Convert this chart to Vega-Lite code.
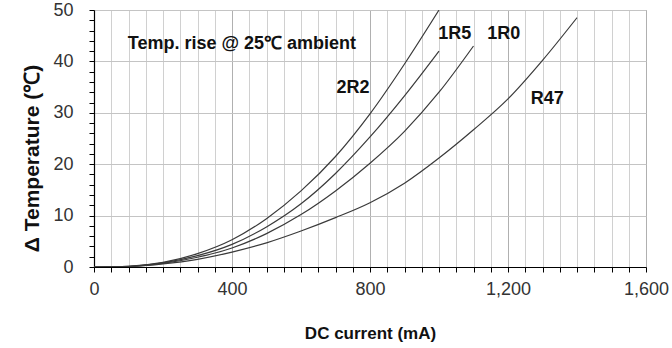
{
  "$schema": "https://vega.github.io/schema/vega-lite/v6.json",
  "width": 552,
  "height": 257,
  "autosize": {"type": "none"},
  "padding": {"left": 94, "top": 10, "right": 26, "bottom": 81},
  "background": "white",
  "config": {
    "view": {"stroke": "#9a9a9a", "strokeWidth": 1},
    "axis": {"labelFont": "Liberation Sans, Arial", "titleFont": "Liberation Sans, Arial", "labelColor": "#333", "titleColor": "#111"}
  },
  "datasets": {
    "curves": [
      {"series": "2R2", "current": 0, "rise": 0},
      {"series": "2R2", "current": 100, "rise": 0.15},
      {"series": "2R2", "current": 200, "rise": 0.9},
      {"series": "2R2", "current": 300, "rise": 2.6},
      {"series": "2R2", "current": 400, "rise": 5.3},
      {"series": "2R2", "current": 500, "rise": 9.4},
      {"series": "2R2", "current": 600, "rise": 14.8},
      {"series": "2R2", "current": 700, "rise": 21.5},
      {"series": "2R2", "current": 800, "rise": 29.8},
      {"series": "2R2", "current": 900, "rise": 39.5},
      {"series": "2R2", "current": 1000, "rise": 50},
      {"series": "1R5", "current": 0, "rise": 0},
      {"series": "1R5", "current": 100, "rise": 0.12},
      {"series": "1R5", "current": 200, "rise": 0.8},
      {"series": "1R5", "current": 300, "rise": 2.2},
      {"series": "1R5", "current": 400, "rise": 4.4},
      {"series": "1R5", "current": 500, "rise": 7.8},
      {"series": "1R5", "current": 600, "rise": 12.3},
      {"series": "1R5", "current": 700, "rise": 18.2},
      {"series": "1R5", "current": 800, "rise": 25.3},
      {"series": "1R5", "current": 900, "rise": 33.3},
      {"series": "1R5", "current": 1000, "rise": 42},
      {"series": "1R0", "current": 0, "rise": 0},
      {"series": "1R0", "current": 100, "rise": 0.1},
      {"series": "1R0", "current": 200, "rise": 0.7},
      {"series": "1R0", "current": 300, "rise": 1.9},
      {"series": "1R0", "current": 400, "rise": 3.7},
      {"series": "1R0", "current": 500, "rise": 6.5},
      {"series": "1R0", "current": 600, "rise": 10.2},
      {"series": "1R0", "current": 700, "rise": 14.8},
      {"series": "1R0", "current": 800, "rise": 20.2},
      {"series": "1R0", "current": 900, "rise": 26.4},
      {"series": "1R0", "current": 1000, "rise": 34.0},
      {"series": "1R0", "current": 1100, "rise": 43},
      {"series": "R47", "current": 0, "rise": 0},
      {"series": "R47", "current": 100, "rise": 0.08},
      {"series": "R47", "current": 200, "rise": 0.6},
      {"series": "R47", "current": 300, "rise": 1.5},
      {"series": "R47", "current": 400, "rise": 2.9},
      {"series": "R47", "current": 500, "rise": 4.7},
      {"series": "R47", "current": 600, "rise": 7.0},
      {"series": "R47", "current": 700, "rise": 9.6},
      {"series": "R47", "current": 800, "rise": 12.5},
      {"series": "R47", "current": 900, "rise": 16.3},
      {"series": "R47", "current": 1000, "rise": 21.2},
      {"series": "R47", "current": 1100, "rise": 26.7},
      {"series": "R47", "current": 1200, "rise": 32.7},
      {"series": "R47", "current": 1300, "rise": 40.2},
      {"series": "R47", "current": 1400, "rise": 48.5}
    ],
    "labels": [
      {"text": "2R2", "current": 751, "rise": 34.9},
      {"text": "1R5", "current": 1046, "rise": 45.3},
      {"text": "1R0", "current": 1188, "rise": 45.3},
      {"text": "R47", "current": 1314, "rise": 32.7}
    ],
    "note": [
      {"text": "Temp. rise @ 25℃ ambient", "current": 98, "rise": 43.4}
    ]
  },
  "layer": [
    {
      "data": {"name": "curves"},
      "mark": {"type": "line", "interpolate": "monotone", "color": "#3a3a3a", "strokeWidth": 1.2, "clip": true},
      "encoding": {
        "x": {
          "field": "current", "type": "quantitative",
          "scale": {"domain": [0, 1600], "nice": false, "zero": true},
          "axis": {
            "title": "DC current (mA)",
            "titleFontSize": 17, "titleFontWeight": "bold",
            "titleY": 66, "titleBaseline": "middle",
            "tickCount": 200,
            "values": [0,50,100,150,200,250,300,350,400,450,500,550,600,650,700,750,800,850,900,950,1000,1050,1100,1150,1200,1250,1300,1350,1400,1450,1500,1550,1600],
            "labelExpr": "datum.value % 400 === 0 ? format(datum.value, ',') : ''",
            "labelFontSize": 18, "labelFlush": false, "labelOverlap": false, "labelBound": false,
            "labelPadding": 8,
            "tickSize": 5, "tickColor": "#000", "domainColor": "#000", "domainWidth": 1.2,
            "grid": true,
            "gridColor": {"condition": {"test": "datum.value % 400 === 0", "value": "#b0b0b0"}, "value": "#d0d0d0"},
            "gridWidth": 1
          }
        },
        "y": {
          "field": "rise", "type": "quantitative",
          "scale": {"domain": [0, 50], "nice": false},
          "axis": {
            "title": "Δ Temperature (℃)",
            "titleFontSize": 21, "titleFontWeight": "bold",
            "titleX": -62, "titleY": 148, "titleBaseline": "middle",
            "tickCount": 200,
            "values": [0,2,4,6,8,10,12,14,16,18,20,22,24,26,28,30,32,34,36,38,40,42,44,46,48,50],
            "labelExpr": "datum.value % 10 === 0 ? datum.value : ''",
            "labelFontSize": 18, "labelOverlap": false, "labelBound": false, "labelFlush": false,
            "labelPadding": 16,
            "tickSize": 5, "tickColor": "#000", "domainColor": "#000", "domainWidth": 1.2,
            "grid": true,
            "gridOpacity": {"condition": {"test": "datum.value % 10 === 0", "value": 1}, "value": 0},
            "gridColor": "#c4c4c4"
          }
        },
        "detail": {"field": "series"}
      }
    },
    {
      "data": {"name": "labels"},
      "mark": {"type": "text", "font": "Liberation Sans, Arial", "fontSize": 18, "fontWeight": "bold", "color": "#111", "align": "center", "baseline": "middle"},
      "encoding": {
        "x": {"field": "current", "type": "quantitative"},
        "y": {"field": "rise", "type": "quantitative"},
        "text": {"field": "text"}
      }
    },
    {
      "data": {"name": "note"},
      "mark": {"type": "text", "font": "Liberation Sans, Arial", "fontSize": 18, "fontWeight": "bold", "color": "#111", "align": "left", "baseline": "middle"},
      "encoding": {
        "x": {"field": "current", "type": "quantitative"},
        "y": {"field": "rise", "type": "quantitative"},
        "text": {"field": "text"}
      }
    }
  ]
}
